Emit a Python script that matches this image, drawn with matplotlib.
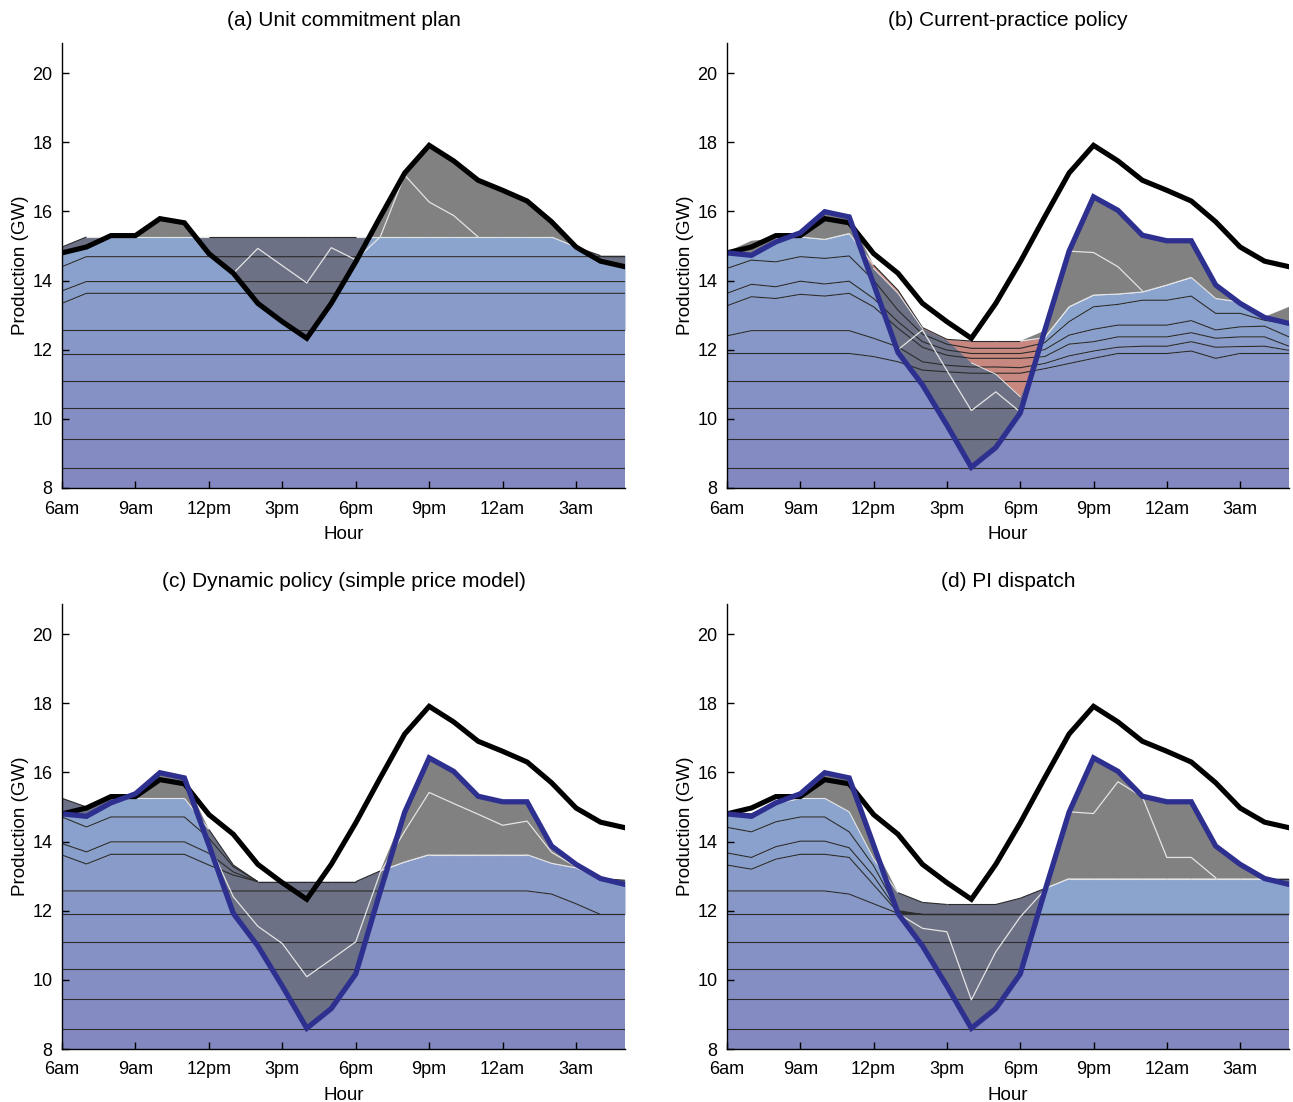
import numpy as np
import matplotlib
matplotlib.use("Agg")
import matplotlib.pyplot as plt
from matplotlib.colors import to_rgb

plt.rcParams['font.family'] = ['Liberation Sans', 'DejaVu Sans']

nan = np.nan
hours = np.arange(24)
hour_ticks = [0, 3, 6, 9, 12, 15, 18, 21]
hour_labels = ['6am', '9am', '12pm', '3pm', '6pm', '9pm', '12am', '3am']

# net load (black) and realised dispatch (blue), GW
net_load = [14.80, 14.97, 15.30, 15.30, 15.79, 15.67, 14.78, 14.21, 13.34, 12.81, 12.33, 13.34,
            14.54, 15.84, 17.11, 17.91, 17.46, 16.90, 16.61, 16.30, 15.70, 14.97, 14.56, 14.40]
dispatch = [14.80, 14.73, 15.12, 15.38, 15.99, 15.84, 13.90, 11.92, 10.98, 9.82, 8.60, 9.17,
            10.17, 12.55, 14.85, 16.42, 16.03, 15.31, 15.15, 15.15, 13.87, 13.34, 12.93, 12.76]

# (a) unit commitment plan
a_base = [8.57, 9.43, 10.30, 11.10, 11.88, 12.56]
a_u1 = [13.34, 13.63, 13.63, 13.63, 13.63, 13.63, 13.63, 13.63, 13.63, 13.63, 13.63, 13.63,
        13.63, 13.63, 13.63, 13.63, 13.63, 13.63, 13.63, 13.63, 13.63, 13.63, 13.63, 13.63]
a_u2 = [13.70, 13.97, 13.97, 13.97, 13.97, 13.97, 13.97, 13.97, 13.97, 13.97, 13.97, 13.97,
        13.97, 13.97, 13.97, 13.97, 13.97, 13.97, 13.97, 13.97, 13.97, 13.97, 13.97, 13.97]
a_u3 = [14.40, 14.69, 14.69, 14.69, 14.69, 14.69, 14.69, 14.69, 14.69, 14.69, 14.69, 14.69,
        14.69, 14.69, 14.69, 14.69, 14.69, 14.69, 14.69, 14.69, 14.69, 14.69, 14.69, 14.69]
a_top = [14.97, 15.26, 15.26, 15.26, 15.26, 15.26, 15.26, 15.26, 15.26, 15.26, 15.26, 15.26,
         15.26, 15.26, 15.26, 15.26, 15.26, 15.26, 15.26, 15.26, 15.26, 14.97, 14.72, 14.72]
a_white = [nan, nan, nan, nan, nan, nan, nan, 14.21, 14.93, 14.43, 13.93, 14.95,
           14.60, 15.26, 17.05, 16.27, 15.88, 15.26, nan, nan, nan, nan, nan, nan]

# (b) current-practice policy
b_base = [8.57, 9.43, 10.30, 11.10]
b_u0 = [11.89, 11.89, 11.89, 11.89, 11.89, 11.89, 11.80, 11.65, 11.41, 11.36, 11.32, 11.32,
        11.32, 11.45, 11.60, 11.75, 11.89, 11.89, 11.89, 11.96, 11.75, 11.89, 11.89, 11.89]
b_u1 = [12.40, 12.55, 12.55, 12.55, 12.55, 12.55, 12.33, 12.08, 11.65, 11.55, 11.50, 11.50,
        11.48, 11.60, 11.82, 11.96, 12.07, 12.10, 12.10, 12.23, 12.07, 12.09, 12.10, 11.98]
b_u2 = [13.27, 13.53, 13.48, 13.60, 13.55, 13.63, 13.24, 12.62, 12.07, 11.84, 11.75, 11.75,
        11.75, 11.80, 12.16, 12.23, 12.37, 12.37, 12.37, 12.49, 12.33, 12.37, 12.37, 12.10]
b_u3 = [13.63, 13.89, 13.82, 13.98, 13.90, 13.98, 13.48, 12.81, 12.23, 11.99, 11.89, 11.89,
        11.89, 12.00, 12.42, 12.59, 12.71, 12.71, 12.71, 12.84, 12.57, 12.66, 12.68, 12.37]
b_u4 = [14.35, 14.59, 14.54, 14.69, 14.64, 14.71, 14.01, 13.14, 12.45, 12.16, 12.04, 12.04,
        12.04, 12.20, 12.81, 13.24, 13.31, 13.43, 13.43, 13.55, 13.05, 13.05, 12.85, 12.74]
b_top = [14.80, 14.73, 15.20, 15.26, 15.19, 15.36, 14.45, 13.72, 12.64, 12.30, 12.25, 12.25,
         12.25, 12.35, 13.24, 13.58, 13.61, 13.67, 13.87, 14.09, 13.48, 13.38, 12.95, 12.78]
b_used_top = [14.80, 14.73, 15.20, 15.26, 15.19, 15.36, 14.35, 13.63, 12.61, 12.28, 11.62, 11.29,
              10.64, 12.35, 13.24, 13.58, 13.61, 13.67, 13.87, 14.09, 13.48, 13.38, 12.95, 12.78]
b_gray_top = [14.83, 15.15, 15.22, 15.38, 15.99, 15.84, 14.45, 13.72, 12.64, 12.30, 12.25, 12.25,
              12.25, 12.55, 14.85, 16.42, 16.03, 15.31, 15.15, 15.15, 13.87, 13.38, 12.95, 13.24]
b_white = [nan, nan, nan, nan, nan, nan, nan, 12.00, 12.57, 11.40, 10.24, 10.78,
           10.20, nan, 14.85, 14.81, 14.40, 13.70, nan, nan, nan, nan, nan, nan]

# (c) dynamic policy
c_base = [8.57, 9.44, 10.30, 11.10, 11.89]
c_u0 = [12.57, 12.57, 12.57, 12.57, 12.57, 12.57, 12.57, 12.57, 12.57, 12.57, 12.57, 12.57,
        12.57, 12.57, 12.57, 12.57, 12.57, 12.57, 12.57, 12.57, 12.48, 12.20, 11.89, 11.89]
c_top = [15.25, 15.00, 15.25, 15.25, 15.25, 15.25, 14.35, 13.32, 12.84, 12.84, 12.84, 12.84,
         12.84, 13.15, 13.41, 13.62, 13.62, 13.62, 13.62, 13.62, 13.37, 13.24, 12.93, 12.88]
c_u1 = [13.61, 13.35, 13.63, 13.63, 13.63, 13.63, 13.32, 13.03, 12.84, 12.84, 12.84, 12.84,
        12.84, 13.15, 13.41, 13.62, 13.62, 13.62, 13.62, 13.62, 13.37, 13.24, 12.93, 12.88]
c_u2 = [13.94, 13.70, 13.99, 13.99, 13.99, 13.99, 13.66, 13.12, 12.84, 12.84, 12.84, 12.84,
        12.84, 13.15, 13.41, 13.62, 13.62, 13.62, 13.62, 13.62, 13.37, 13.24, 12.93, 12.88]
c_u3 = [14.71, 14.42, 14.71, 14.71, 14.71, 14.71, 14.10, 13.27, 12.84, 12.84, 12.84, 12.84,
        12.84, 13.15, 13.41, 13.62, 13.62, 13.62, 13.62, 13.62, 13.37, 13.24, 12.93, 12.88]
c_white = [nan, nan, nan, nan, nan, nan, 13.95, 12.40, 11.55, 11.05, 10.09, 10.59,
           11.10, 13.10, 14.30, 15.42, 15.10, 14.79, 14.47, 14.59, 13.69, 13.27, nan, nan]

# (d) PI dispatch
d_base = [8.57, 9.44, 10.30, 11.10, 11.89]
d_u0 = [12.57, 12.57, 12.57, 12.57, 12.57, 12.48, 12.20, 11.92, 11.89, 11.89, 11.89, 11.89,
        11.89, 11.89, 11.89, 11.89, 11.89, 11.89, 11.89, 11.89, 11.89, 11.89, 11.89, 11.89]
d_u1 = [13.32, 13.20, 13.49, 13.63, 13.63, 13.54, 12.75, 11.95, 11.89, 11.89, 11.89, 11.89,
        11.89, 11.89, 11.89, 11.89, 11.89, 11.89, 11.89, 11.89, 11.89, 11.89, 11.89, 11.89]
d_u2 = [13.67, 13.54, 13.85, 14.01, 14.01, 13.82, 13.00, 11.97, 11.89, 11.89, 11.89, 11.89,
        11.89, 11.89, 11.89, 11.89, 11.89, 11.89, 11.89, 11.89, 11.89, 11.89, 11.89, 11.89]
d_u3 = [14.41, 14.28, 14.57, 14.71, 14.71, 14.28, 13.30, 12.00, 11.89, 11.89, 11.89, 11.89,
        11.89, 11.89, 11.89, 11.89, 11.89, 11.89, 11.89, 11.89, 11.89, 11.89, 11.89, 11.89]
d_top = [14.86, 14.80, 15.10, 15.25, 15.25, 14.86, 13.50, 12.52, 12.24, 12.18, 12.18, 12.18,
         12.36, 12.64, 12.93, 12.93, 12.93, 12.93, 12.93, 12.93, 12.93, 12.93, 12.93, 12.93]
d_white = [nan, nan, nan, nan, nan, nan, nan, 11.92, 11.49, 11.39, 9.42, 10.81,
           11.82, 12.60, 14.86, 14.81, 15.73, 15.29, 13.54, 13.54, 12.95, nan, nan, nan]

BLUE_LOW = '#8388c0'
BLUE_HIGH = '#8aa4ce'
GRAY = '#818181'
DARK = '#6c7186'
RED = '#c8877f'
LINE = '#2c2c2c'
EDGE_LIGHT = '#e4e4e4'
DISPATCH = '#2e3090'


def layer_colors(n):
    lo, hi = np.array(to_rgb(BLUE_LOW)), np.array(to_rgb(BLUE_HIGH))
    return [tuple(lo + (hi - lo) * i / (n - 1)) for i in range(n)]


def hide_overlap(y, top):
    # drop the runs where a unit line sits on the stack top
    y = np.array(y, dtype=float)
    same = np.isclose(y, top)
    out = y.copy()
    for i in range(len(y)):
        left = i == 0 or same[i - 1]
        right = i == len(y) - 1 or same[i + 1]
        if same[i] and left and right:
            out[i] = nan
    return out


def edge(ax, y, above, light, dark, lw=0.8, z=3.5):
    for i in range(len(y) - 1):
        lit = above[i] > y[i] + 0.03 or above[i + 1] > y[i + 1] + 0.03
        ax.plot(hours[i:i + 2], y[i:i + 2], color=light if lit else dark, lw=lw,
                zorder=z, solid_capstyle='butt')


def draw_panel(ax, title, base, units, top, prod, gray_top, white,
               used_top=None, with_dispatch=True):
    top = np.asarray(top, dtype=float)
    prod = np.asarray(prod, dtype=float)
    gray_top = np.asarray(gray_top, dtype=float)
    used = top if used_top is None else np.asarray(used_top, dtype=float)

    bounds = [np.full(24, 8.0)] + [np.full(24, b) for b in base] + \
             [np.asarray(u, dtype=float) for u in units] + [top]
    cols = layer_colors(len(bounds) - 1)
    for i in range(len(bounds) - 1):
        ax.fill_between(hours, bounds[i], bounds[i + 1], color=cols[i], lw=0, zorder=1)

    # flexible units above the blue stack
    ax.fill_between(hours, top, gray_top, where=gray_top > top, interpolate=True,
                    color=GRAY, lw=0, zorder=2)
    # committed but unused capacity
    ax.fill_between(hours, prod, used, where=prod < used, interpolate=True,
                    color=DARK, lw=0, zorder=2)
    if used_top is not None:
        ax.fill_between(hours, used, top, where=top > used, interpolate=True,
                        color=RED, lw=0, zorder=2)

    for b in bounds[1:1 + len(base)]:
        ax.plot(hours, b, color=LINE, lw=0.8, zorder=3, solid_capstyle='butt')
    for u in bounds[1 + len(base):-1]:
        ax.plot(hours, hide_overlap(u, top), color=LINE, lw=0.8, zorder=3,
                solid_capstyle='butt')
    edge(ax, top, gray_top, EDGE_LIGHT, LINE)
    if used_top is not None:
        mask = np.where(top > used + 0.03, used, nan)
        ax.plot(hours, mask, color=EDGE_LIGHT, lw=0.7, zorder=3.6)

    ax.plot(hours, white, color=EDGE_LIGHT, lw=0.9, zorder=4)
    ax.plot(hours, net_load, color='black', lw=3.7, zorder=5, solid_joinstyle='miter')
    if with_dispatch:
        ax.plot(hours, dispatch, color=DISPATCH, lw=3.8, zorder=6, solid_joinstyle='miter')

    ax.set_xlim(0, 23)
    ax.set_ylim(8, 20.87)
    ax.set_xticks(hour_ticks)
    ax.set_xticklabels(hour_labels)
    ax.set_yticks([8, 10, 12, 14, 16, 18, 20])
    ax.tick_params(direction='in', length=5, width=1, labelsize=13)
    ax.tick_params(axis='x', pad=9)
    ax.tick_params(axis='y', pad=7)
    for side in ('top', 'right'):
        ax.spines[side].set_visible(False)
    for side in ('left', 'bottom'):
        ax.spines[side].set_linewidth(1.0)
        ax.spines[side].set_zorder(7)
    ax.set_xlabel('Hour', fontsize=13.5, labelpad=6)
    ax.set_ylabel('Production (GW)', fontsize=13.5, labelpad=2)
    ax.set_title(title, fontsize=15, pad=12)


fig = plt.figure(figsize=(12.93, 11.02), dpi=100)
W, H = 1293, 1102
ax_a = fig.add_axes([62 / W, 1 - 488 / H, 563 / W, 445 / H])
ax_b = fig.add_axes([727 / W, 1 - 488 / H, 562 / W, 445 / H])
ax_c = fig.add_axes([62 / W, 1 - 1049 / H, 563 / W, 445 / H])
ax_d = fig.add_axes([727 / W, 1 - 1049 / H, 562 / W, 445 / H])

draw_panel(ax_a, '(a) Unit commitment plan', a_base, [a_u1, a_u2, a_u3], a_top,
           net_load, net_load, a_white, with_dispatch=False)
draw_panel(ax_b, '(b) Current-practice policy', b_base, [b_u0, b_u1, b_u2, b_u3, b_u4],
           b_top, dispatch, b_gray_top, b_white, used_top=b_used_top)
draw_panel(ax_c, '(c) Dynamic policy (simple price model)', c_base, [c_u0, c_u1, c_u2, c_u3],
           c_top, dispatch, np.maximum(dispatch, c_top), c_white)
draw_panel(ax_d, '(d) PI dispatch', d_base, [d_u0, d_u1, d_u2, d_u3],
           d_top, dispatch, np.maximum(dispatch, d_top), d_white)

fig.savefig('out.png', dpi=100)
